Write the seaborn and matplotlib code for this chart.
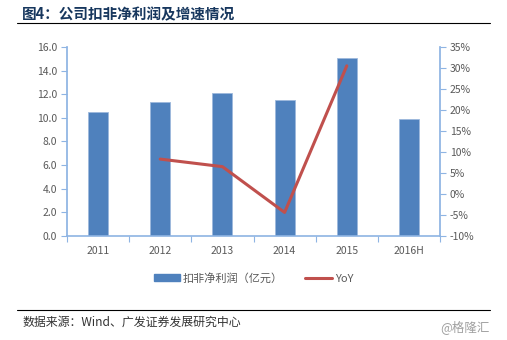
import matplotlib
matplotlib.use("Agg")
import matplotlib.pyplot as plt
import matplotlib.ticker as mticker
from matplotlib.patches import Patch
from matplotlib.lines import Line2D
import seaborn as sns
import pandas as pd

# Data
years = ["2011", "2012", "2013", "2014", "2015", "2016H"]
profit = [10.45, 11.33, 12.09, 11.50, 15.06, 9.89]          # 扣非净利润（亿元）
yoy_years = ["2012", "2013", "2014", "2015"]
yoy = [8.3, 6.5, -4.4, 30.5]                                  # YoY (%)

title = "图4：公司扣非净利润及增速情况"
bar_label = "扣非净利润（亿元）"
line_label = "YoY"
source = "数据来源：Wind、广发证券发展研究中心"
mark = "@格隆汇"

sns.set_theme(style="white")
plt.rcParams["font.family"] = ["Noto Sans CJK SC", "DejaVu Sans"]

BLUE = "#4F81BD"
RED = "#C0504D"
AXIS = "#8EB4E3"
TXT = "#595959"

fig = plt.figure(figsize=(5.07, 3.40), dpi=100)
ax = fig.add_axes([0.132, 0.306, 0.736, 0.556])

df = pd.DataFrame({"year": years, "profit": profit})
sns.barplot(data=df, x="year", y="profit", order=years, color=BLUE,
            width=0.32, saturation=1, edgecolor="#9DB9DC", linewidth=0.6, ax=ax)

ax.set_ylim(0, 16)
ax.set_xlim(-0.5, len(years) - 0.5)
ax.yaxis.set_major_locator(mticker.MultipleLocator(2))
ax.yaxis.set_major_formatter(mticker.FormatStrFormatter("%.1f"))
ax.set_xlabel("")
ax.set_ylabel("")

ax2 = ax.twinx()
pos = {y: i for i, y in enumerate(years)}
ldf = pd.DataFrame({"x": [pos[y] for y in yoy_years], "yoy": yoy})
sns.lineplot(data=ldf, x="x", y="yoy", color=RED, linewidth=2.2, ax=ax2)
ax2.set_ylim(-10, 35)
ax2.yaxis.set_major_locator(mticker.MultipleLocator(5))
ax2.yaxis.set_major_formatter(mticker.FuncFormatter(lambda v, p: f"{v:.0f}%"))
ax2.set_xlim(-0.5, len(years) - 0.5)
ax2.set_xlabel("")
ax2.set_ylabel("")

for a in (ax, ax2):
    for s in a.spines.values():
        s.set_visible(False)
ax.spines["left"].set_visible(True)
ax.spines["left"].set_color(AXIS)
ax.spines["bottom"].set_visible(True)
ax.spines["bottom"].set_color(AXIS)
ax.spines["bottom"].set_linewidth(1.2)
ax2.spines["right"].set_visible(True)
ax2.spines["right"].set_color(AXIS)

ax.tick_params(axis="y", which="major", direction="out", length=4, width=0.8,
               color=AXIS, labelsize=7.5, labelcolor=TXT, left=True, pad=3)
ax2.tick_params(axis="y", which="major", direction="out", length=4, width=0.8,
                color=AXIS, labelsize=7.5, labelcolor=TXT, right=True, pad=3)
# category labels centred, tick marks between categories
ax.tick_params(axis="x", which="major", length=0, labelsize=7.5, labelcolor=TXT, pad=7)
ax.set_xticks(range(len(years)))
ax.set_xticklabels(years)
ax.xaxis.set_minor_locator(mticker.FixedLocator([i + 0.5 for i in range(-1, len(years))]))
ax.tick_params(axis="x", which="minor", direction="out", length=4, width=0.8,
               color=AXIS, bottom=True)
ax2.tick_params(axis="x", bottom=False, labelbottom=False)

handles = [Patch(facecolor=BLUE, edgecolor=BLUE, label=bar_label),
           Line2D([0], [0], color=RED, lw=2.2, label=line_label)]
fig.legend(handles=handles, loc="center", bbox_to_anchor=(0.5, 0.182), ncol=2,
           frameon=False, fontsize=8, handlelength=2.4, handleheight=0.55,
           columnspacing=2.0, handletextpad=0.25, labelcolor=TXT)

fig.text(0.043, 0.958, title, fontsize=10.5, fontweight="bold", color="#17375E",
         ha="left", va="center")
fig.add_artist(Line2D([0.034, 0.966], [0.932, 0.932], color="black", lw=0.8))
fig.add_artist(Line2D([0.034, 0.966], [0.088, 0.088], color="black", lw=0.8))
fig.text(0.045, 0.052, source, fontsize=8.6, color="#333333", ha="left", va="center")
fig.text(0.966, 0.038, mark, fontsize=9, color="#A0A0A0", ha="right", va="center")

fig.savefig("out.png", dpi=100)
